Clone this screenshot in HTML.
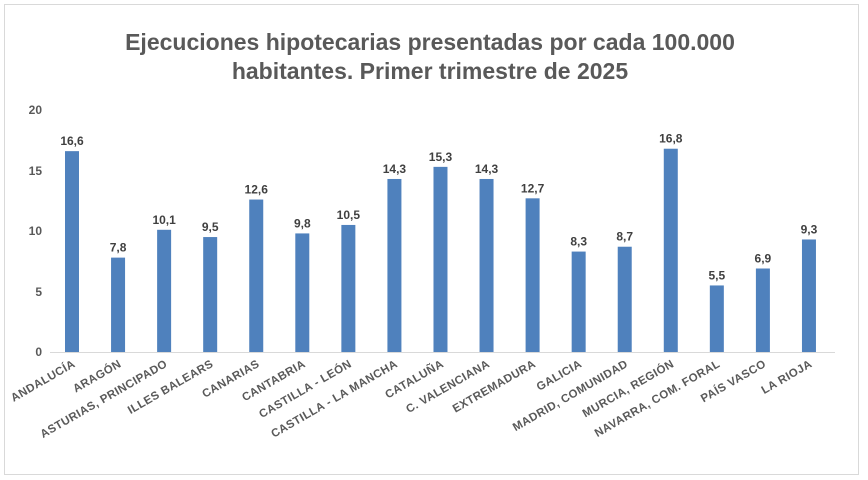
<!DOCTYPE html>
<html><head><meta charset="utf-8"><style>
body{margin:0;background:#fff}
svg{display:block;font-family:"Liberation Sans",sans-serif}
</style></head><body>
<svg width="868" height="480" xmlns="http://www.w3.org/2000/svg">
<rect x="4.5" y="4.5" width="854" height="470" fill="#fff" stroke="#d9d9d9"/>
<text x="430" y="50" text-anchor="middle" font-size="23" font-weight="bold" fill="#595959">Ejecuciones hipotecarias presentadas por cada 100.000</text>
<text x="430" y="79" text-anchor="middle" font-size="23" font-weight="bold" fill="#595959">habitantes. Primer trimestre de 2025</text>
<g stroke="#d9d9d9" stroke-width="1">
<line x1="50" x2="835" y1="352.5" y2="352.5"/>
</g>
<g font-size="12" font-weight="bold" fill="#595959" text-anchor="end">
<text x="42" y="356">0</text><text x="42" y="296">5</text><text x="42" y="235">10</text><text x="42" y="175">15</text><text x="42" y="114">20</text>
</g>
<g id="bars" fill="#4f81bd"></g>
<g id="vals" font-size="12" font-weight="bold" fill="#404040" text-anchor="middle"></g>
<g id="labs" font-size="11.5" font-weight="bold" fill="#595959" text-anchor="end"></g>
<script>
var d=[["ANDALUCÍA",16.6],["ARAGÓN",7.8],["ASTURIAS, PRINCIPADO",10.1],["ILLES BALEARS",9.5],["CANARIAS",12.6],["CANTABRIA",9.8],["CASTILLA - LEÓN",10.5],["CASTILLA - LA MANCHA",14.3],["CATALUÑA",15.3],["C. VALENCIANA",14.3],["EXTREMADURA",12.7],["GALICIA",8.3],["MADRID, COMUNIDAD",8.7],["MURCIA, REGIÓN",16.8],["NAVARRA, COM. FORAL",5.5],["PAÍS VASCO",6.9],["LA RIOJA",9.3]];
var ns="http://www.w3.org/2000/svg",b=document.getElementById("bars"),v=document.getElementById("vals"),l=document.getElementById("labs");
d.forEach(function(e,i){var cx=72+i*46.06,h=e[1]*12.1,y=352-h;
var r=document.createElementNS(ns,"rect");r.setAttribute("x",cx-7);r.setAttribute("y",y);r.setAttribute("width",14);r.setAttribute("height",h);b.appendChild(r);
var t=document.createElementNS(ns,"text");t.setAttribute("x",cx);t.setAttribute("y",y-6);t.textContent=e[1].toFixed(1).replace(".",",");v.appendChild(t);
var s=document.createElementNS(ns,"text");s.setAttribute("transform","translate("+(cx+4)+",366) rotate(-30)");s.setAttribute("letter-spacing","0.4");s.textContent=e[0];l.appendChild(s);});
</script>
</svg>
</body></html>
